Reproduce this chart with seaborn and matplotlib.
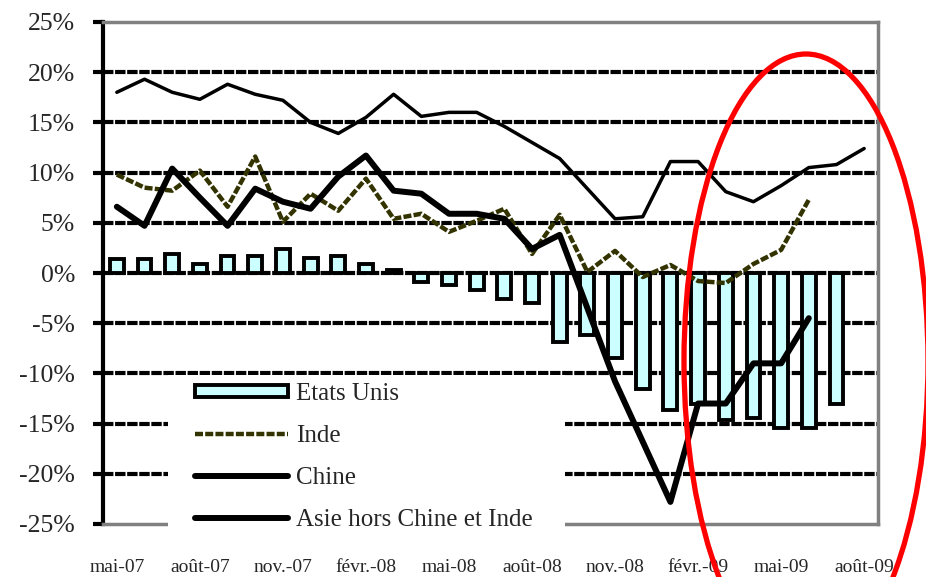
import numpy as np
import pandas as pd
import matplotlib
matplotlib.use("Agg")
import matplotlib.pyplot as plt
from matplotlib.patches import Ellipse, Rectangle
from matplotlib.ticker import FixedLocator, FuncFormatter
import seaborn as sns

nan = np.nan

months = ["mai-07", "juin-07", "juil.-07", "août-07", "sept.-07", "oct.-07", "nov.-07",
          "déc.-07", "janv.-08", "févr.-08", "mars-08", "avr.-08", "mai-08", "juin-08",
          "juil.-08", "août-08", "sept.-08", "oct.-08", "nov.-08", "déc.-08", "janv.-09",
          "févr.-09", "mars-09", "avr.-09", "mai-09", "juin-09", "juil.-09", "août-09"]

etats_unis = [1.4, 1.4, 1.9, 0.9, 1.7, 1.7, 2.4, 1.5, 1.7, 0.9, 0.3, -0.9, -1.2, -1.7,
              -2.6, -3.0, -6.9, -6.2, -8.5, -11.6, -13.6, -13.0, -14.6, -14.4, -15.4,
              -15.4, -13.0, nan]
inde = [9.8, 8.5, 8.2, 10.2, 6.6, 11.6, 5.1, 7.9, 6.2, 9.4, 5.4, 5.9, 4.1, 5.2,
        6.4, 1.9, 5.8, 0.1, 2.2, -0.4, 0.8, -0.8, -1.0, 0.9, 2.3, 7.3, nan, nan]
chine = [18.0, 19.3, 18.0, 17.3, 18.8, 17.8, 17.2, 15.0, 13.9, 15.5, 17.8, 15.6, 16.0,
         16.0, 14.6, 13.0, 11.4, 8.4, 5.4, 5.6, 11.1, 11.1, 8.1, 7.1, 8.7, 10.5, 10.8, 12.4]
asie = [6.6, 4.7, 10.4, 7.5, 4.7, 8.4, 7.1, 6.4, 9.6, 11.7, 8.2, 7.9, 5.9, 5.9,
        5.4, 2.4, 3.8, -3.5, -10.8, -16.8, -22.8, -13.0, -13.0, -9.0, -9.0, -4.5, nan, nan]

ytick_values = [-25, -20, -15, -10, -5, 0, 5, 10, 15, 20, 25]
xtick_labels = ["mai-07", "août-07", "nov.-07", "févr.-08", "mai-08", "août-08",
                "nov.-08", "févr.-09", "mai-09", "août-09"]

idx = np.arange(len(months))
df = pd.DataFrame({"idx": idx, "mois": months, "Etats Unis": etats_unis,
                   "Inde": inde, "Chine": chine, "Asie": asie})

sns.set_style("white")
plt.rcParams["font.family"] = ["Liberation Serif", "DejaVu Serif"]

W, H = 926, 577
fig = plt.figure(figsize=(W / 100, H / 100), dpi=100)
ax = fig.add_axes([103 / W, 1 - 524 / H, (878 - 103) / W, (524 - 22) / H])

sns.barplot(data=df, x="idx", y="Etats Unis", ax=ax, color="#CCFFFF", width=0.5,
            edgecolor="black", linewidth=2.8, saturation=1, label="Etats Unis",
            errorbar=None, native_scale=False)
sns.lineplot(data=df, x="idx", y="Inde", ax=ax, color="#333300", linewidth=3.2,
             linestyle=(0, (1.8, 0.5)), label="Inde")
sns.lineplot(data=df, x="idx", y="Chine", ax=ax, color="black", linewidth=2.5,
             label="Chine")
sns.lineplot(data=df, x="idx", y="Asie", ax=ax, color="black", linewidth=4.3,
             label="Asie hors Chine et Inde")

ax.set_xlim(-0.5, len(months) - 0.5)
ax.set_ylim(-25, 25)
ax.set_xlabel("")
ax.set_ylabel("")

ax.yaxis.set_major_locator(FixedLocator(ytick_values))
ax.yaxis.set_major_formatter(FuncFormatter(lambda v, p: f"{int(round(v))}%"))
tick_pos = [months.index(m) for m in xtick_labels]
ax.set_xticks(tick_pos)
ax.set_xticklabels(xtick_labels)

ax.set_axisbelow(True)
ax.grid(axis="y", color="black", linewidth=3, linestyle=(0, (2.5, 0.4)))
ax.grid(axis="x", visible=False)
yticks = ax.yaxis.get_major_ticks()
yticks[0].gridline.set_visible(False)
yticks[-1].gridline.set_visible(False)

for s in ["top", "right", "bottom"]:
    ax.spines[s].set_color("#808080")
    ax.spines[s].set_linewidth(2.5)
ax.spines["left"].set_color("black")
ax.spines["left"].set_linewidth(3)

ax.tick_params(axis="y", direction="out", length=7, width=3, color="black",
               pad=13, labelsize=18.5, left=True)
ax.tick_params(axis="x", length=0, pad=25, labelsize=14)

# legend background
ax.add_patch(Rectangle((168 / W, 1 - 537 / H), (565 - 168) / W, (537 - 375) / H,
                       transform=fig.transFigure, facecolor="white",
                       edgecolor="none", zorder=4, clip_on=False))

handles, labels = ax.get_legend_handles_labels()
order = ["Etats Unis", "Inde", "Chine", "Asie hors Chine et Inde"]
hmap = dict(zip(labels, handles))
leg = ax.legend([hmap[l] for l in order], order, loc="upper left",
                bbox_to_anchor=(195 / W, 1 - 383 / H), bbox_transform=fig.transFigure,
                frameon=False, fontsize=18, handlelength=3.7, handleheight=0.4,
                handletextpad=0.35, labelspacing=0.8, borderpad=0, borderaxespad=0)
leg.set_zorder(6)
for ln in leg.get_lines():
    if ln.get_label() != "Inde":
        ln.set_linewidth(4.3)
legl = leg.get_lines()
legl[1].set_linewidth(4.3)

fig.add_artist(Ellipse((806 / W, 1 - 361.5 / H), 244 / W, 615 / H,
                       transform=fig.transFigure, fill=False, edgecolor="red",
                       linewidth=3.8, zorder=10))

fig.savefig("out.png", dpi=100)
